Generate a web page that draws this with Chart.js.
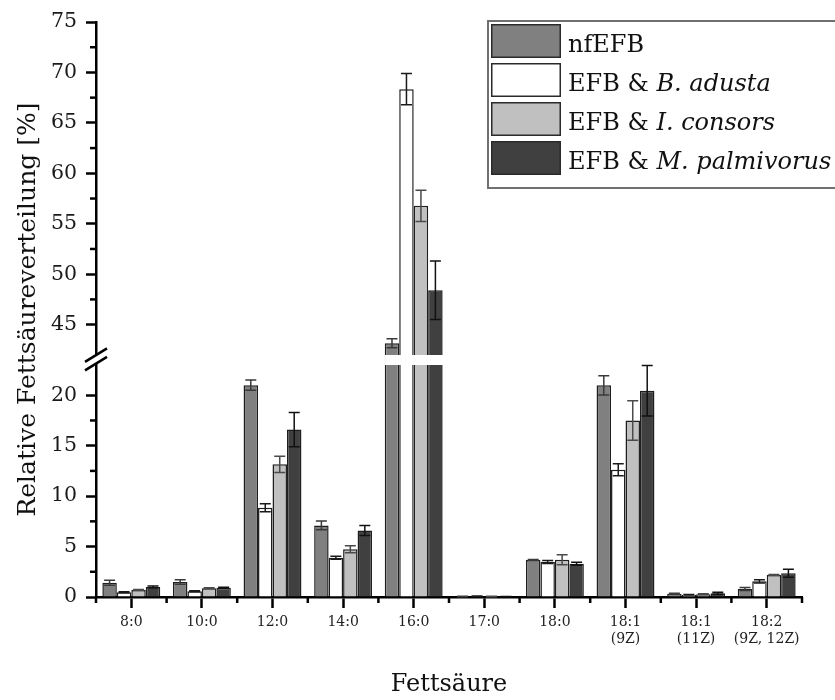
<!DOCTYPE html>
<html>
<head>
<meta charset="utf-8">
<script src="https://cdn.jsdelivr.net/npm/chart.js@4.4.1/dist/chart.umd.min.js"></script>
<style>
  html, body { margin: 0; background: #fff; overflow: hidden; }
  #wrap { position: relative; width: 835px; height: 700px; }
</style>
</head>
<body>
<div id="wrap">
  <canvas id="fattyChart"></canvas>
</div>
<script>
// Fettsäuren (x categories)
const categories = ['8:0', '10:0', '12:0', '14:0', '16:0', '17:0', '18:0',
  ['18:1', '(9Z)'], ['18:1', '(11Z)'], ['18:2', '(9Z, 12Z)']];

// series names: plain part + italic species part
const seriesNames = [['nfEFB', ''], ['EFB & ', 'B. adusta'], ['EFB & ', 'I. consors'], ['EFB & ', 'M. palmivorus']];

// mean values [%] and standard deviations
const nfEFB        = [1.42, 1.49, 21.0, 7.1, 43.16, 0.05, 3.67, 20.98, 0.33, 0.79];
const nfEFBErr     = [0.25, 0.22, 0.5, 0.43, 0.45, 0.02, 0.05, 0.95, 0.05, 0.15];
const bAdusta      = [0.46, 0.56, 8.85, 3.9, 68.34, 0.08, 3.47, 12.62, 0.23, 1.55];
const bAdustaErr   = [0.05, 0.05, 0.4, 0.15, 1.55, 0.02, 0.15, 0.6, 0.03, 0.15];
const iConsors     = [0.69, 0.86, 13.15, 4.73, 56.78, 0.05, 3.7, 17.5, 0.27, 2.18];
const iConsorsErr  = [0.05, 0.05, 0.8, 0.35, 1.55, 0.02, 0.5, 1.95, 0.04, 0.05];
const mPalmivorus    = [0.99, 0.92, 16.6, 6.6, 48.4, 0.03, 3.3, 20.45, 0.37, 2.35];
const mPalmivorusErr = [0.1, 0.05, 1.7, 0.5, 2.9, 0.01, 0.15, 2.5, 0.1, 0.4];

// broken y axis: lower and upper ranges, tick values
const lowerRange = [0, 23];
const upperRange = [42, 75];
const lowerTicks = [0, 5, 10, 15, 20];
const upperTicks = [45, 50, 55, 60, 65, 70, 75];
const lowerMinor = [2.5, 7.5, 12.5, 17.5];
const upperMinor = [47.5, 52.5, 57.5, 62.5, 67.5, 72.5];

const seriesValues = [nfEFB, bAdusta, iConsors, mPalmivorus];
const seriesErrors = [nfEFBErr, bAdustaErr, iConsorsErr, mPalmivorusErr];
const fills = ['#808080', '#ffffff', '#c0c0c0', '#404040'];
const errColors = ['#3a3a3a', '#1a1a1a', '#4a4a4a', '#111111'];

const FONT = "'DejaVu Serif', serif";
Chart.defaults.font.family = FONT;
Chart.defaults.color = '#1a1a1a';

// each series is drawn twice: once on the lower axis, once on the upper one
const datasets = [];
['yLow', 'yHigh'].forEach(axisId => {
  seriesValues.forEach((vals, s) => {
    datasets.push({
      label: seriesNames[s].join(''),
      data: axisId === 'yLow' ? vals : vals.map(v => (v > upperRange[0] ? v : null)),
      yAxisID: axisId,
      stack: 's' + s,
      clip: 0,
      backgroundColor: fills[s],
      borderColor: '#1e1e1e',
      borderWidth: 1.5,
      categoryPercentage: 0.82,
      barPercentage: 1.0
    });
  });
});

const yTickFont = { size: 20.5 };

function fixedTicks(list) {
  return scale => { scale.ticks = list.map(v => ({ value: v })); };
}

// error bars on whichever part of the axis holds the value
const errorBars = {
  id: 'errorBars',
  afterDatasetsDraw(chart) {
    const { ctx } = chart;
    const { yLow, yHigh } = chart.scales;
    ctx.save();
    ctx.lineWidth = 1.5;
    seriesValues.forEach((vals, s) => {
      const meta = chart.getDatasetMeta(s);
      ctx.strokeStyle = errColors[s];
      vals.forEach((v, i) => {
        const sc = v > lowerRange[1] ? yHigh : yLow;
        const e = seriesErrors[s][i];
        const x = meta.data[i].x;
        const top = sc.getPixelForValue(v + e);
        const bot = sc.getPixelForValue(v - e);
        ctx.beginPath();
        ctx.moveTo(x, top); ctx.lineTo(x, bot);
        ctx.moveTo(x - 5.5, top); ctx.lineTo(x + 5.5, top);
        ctx.moveTo(x - 5.5, bot); ctx.lineTo(x + 5.5, bot);
        ctx.stroke();
      });
    });
    ctx.restore();
  }
};

// minor ticks, axis break marks and the y title
const axisExtras = {
  id: 'axisExtras',
  afterDraw(chart) {
    const { ctx, chartArea } = chart;
    const { x, yLow, yHigh } = chart.scales;
    const line = (x1, y1, x2, y2) => { ctx.beginPath(); ctx.moveTo(x1, y1); ctx.lineTo(x2, y2); ctx.stroke(); };
    ctx.save();
    ctx.strokeStyle = '#000';
    ctx.lineWidth = 2.5;
    const ax = chartArea.left;
    [[yLow, lowerMinor], [yHigh, upperMinor]].forEach(([sc, vals]) => {
      vals.forEach(v => { const py = sc.getPixelForValue(v); line(ax - 6, py, ax, py); });
    });
    const step = x.width / categories.length;
    for (let i = 0; i <= categories.length; i++) {
      const px = x.left + i * step;
      line(px, x.top, px, x.top + 6);
    }
    // break marks
    const yc = (yLow.top + yHigh.bottom) / 2;
    line(ax - 11, yc + 2, ax + 11, yc - 11.5);
    line(ax - 11, yc + 10.5, ax + 11, yc - 3);

    ctx.fillStyle = '#111';
    ctx.font = '25px ' + FONT;
    ctx.textAlign = 'center';
    ctx.textBaseline = 'middle';
    ctx.translate(28, (chartArea.top + chartArea.bottom) / 2);
    ctx.rotate(-Math.PI / 2);
    ctx.fillText('Relative Fettsäureverteilung [%]', 0, 0);
    ctx.restore();
  }
};

// boxed legend in the top right corner, open towards the right edge
const legendBox = {
  id: 'legendBox',
  afterDraw(chart) {
    const { ctx, width } = chart;
    const left = 487, top = 20, bottom = 189, rowH = 39;
    ctx.save();
    ctx.fillStyle = '#fff';
    ctx.fillRect(left, top, width - left, bottom - top);
    ctx.strokeStyle = '#707070';
    ctx.lineWidth = 2;
    ctx.beginPath();
    ctx.moveTo(width, top + 1);
    ctx.lineTo(left + 1, top + 1);
    ctx.lineTo(left + 1, bottom - 1);
    ctx.lineTo(width, bottom - 1);
    ctx.stroke();
    seriesNames.forEach((parts, s) => {
      const y = top + 4 + rowH * s;
      ctx.fillStyle = fills[s];
      ctx.fillRect(left + 4, y, 70, 34);
      ctx.strokeStyle = '#2a2a2a';
      ctx.lineWidth = 1.5;
      ctx.strokeRect(left + 4.75, y + 0.75, 68.5, 32.5);
      ctx.fillStyle = '#111';
      ctx.textBaseline = 'alphabetic';
      ctx.font = '24px ' + FONT;
      ctx.fillText(parts[0], left + 81, y + 28);
      const w = ctx.measureText(parts[0]).width;
      ctx.font = 'italic 24px ' + FONT;
      ctx.fillText(parts[1], left + 81 + w, y + 28);
    });
    ctx.restore();
  }
};

const chart = new Chart(document.getElementById('fattyChart'), {
  type: 'bar',
  data: { labels: categories, datasets: datasets },
  options: {
    responsive: true,
    maintainAspectRatio: false,
    animation: false,
    events: [],
    layout: { padding: { top: 22, right: 33, left: 0, bottom: 0 } },
    plugins: { legend: { display: false }, tooltip: { enabled: false } },
    scales: {
      x: {
        offset: true,
        grid: { display: true, drawOnChartArea: false, offset: false, tickLength: 11, tickWidth: 2.5, tickColor: '#000' },
        border: { display: true, width: 2.5, color: '#000' },
        ticks: { font: { size: 14 }, color: '#222', padding: 6, maxRotation: 0, autoSkip: false },
        title: { display: true, text: 'Fettsäure', font: { size: 24 }, color: '#111', padding: { top: 0, bottom: 1 } },
        afterFit: s => { s.height = 103; }
      },
      yLow: {
        type: 'linear', position: 'left', stack: 'y', stackWeight: lowerRange[1] - lowerRange[0],
        min: lowerRange[0], max: lowerRange[1],
        afterBuildTicks: fixedTicks(lowerTicks),
        grid: { display: true, drawOnChartArea: false, tickLength: 10, tickWidth: 2.5, tickColor: '#000' },
        border: { display: true, width: 2.5, color: '#000' },
        ticks: { font: yTickFont, color: '#1a1a1a', padding: 9 },
        afterFit: s => { s.width = 96; }
      },
      yGap: {
        type: 'linear', position: 'left', stack: 'y', stackWeight: 1,
        min: 0, max: 1,
        grid: { display: false },
        border: { display: false },
        ticks: { display: false },
        afterFit: s => { s.width = 96; }
      },
      yHigh: {
        type: 'linear', position: 'left', stack: 'y', stackWeight: upperRange[1] - upperRange[0],
        min: upperRange[0], max: upperRange[1],
        afterBuildTicks: fixedTicks(upperTicks),
        grid: { display: true, drawOnChartArea: false, tickLength: 10, tickWidth: 2.5, tickColor: '#000' },
        border: { display: true, width: 2.5, color: '#000' },
        ticks: { font: yTickFont, color: '#1a1a1a', padding: 9 },
        afterFit: s => { s.width = 96; }
      }
    }
  },
  plugins: [errorBars, axisExtras, legendBox]
});
</script>
</body>
</html>
